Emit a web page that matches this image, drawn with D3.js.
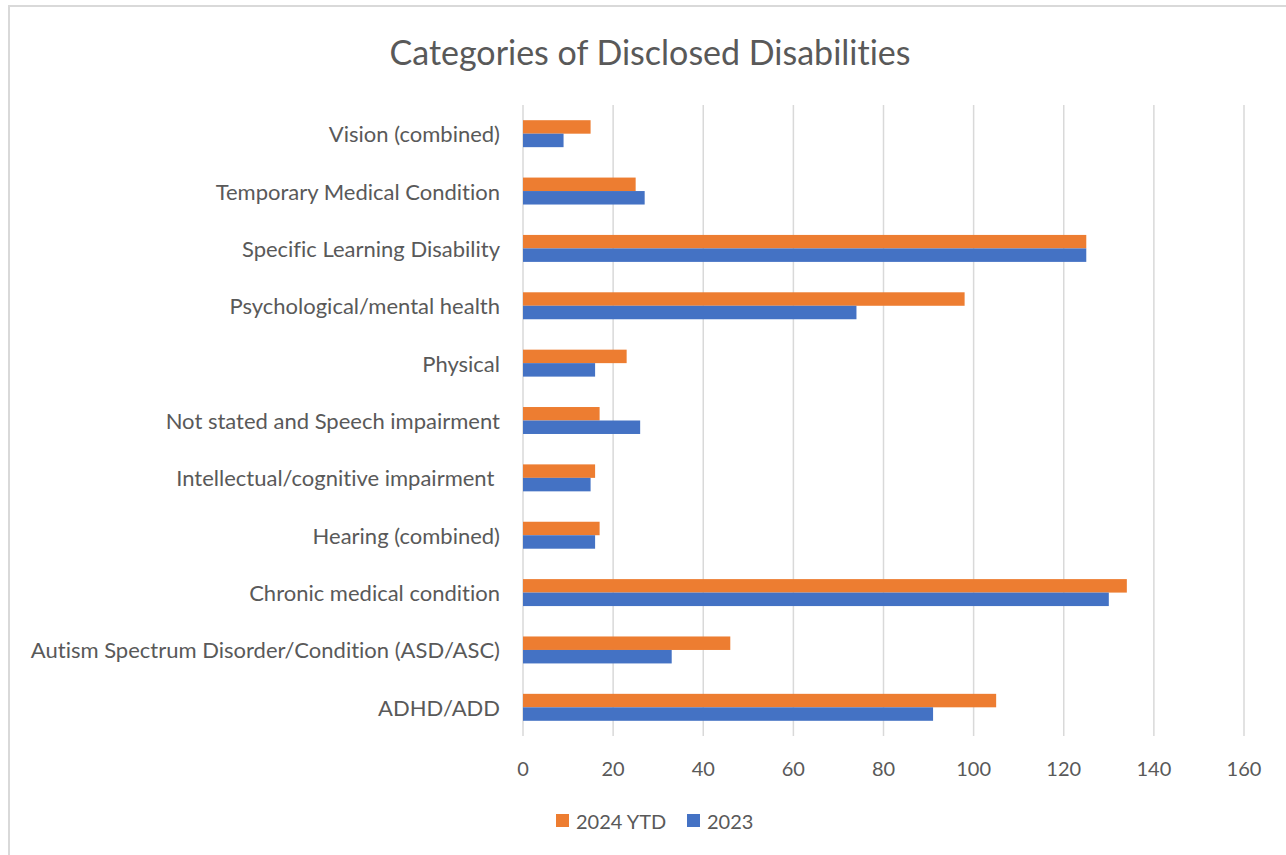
<!DOCTYPE html>
<html>
<head>
<meta charset="utf-8">
<script src="https://cdn.jsdelivr.net/npm/d3@7"></script>
<style>
  html, body { margin: 0; padding: 0; background: #fff; }
  svg { display: block; }
  text { font-family: Lato, "Open Sans", sans-serif; fill: #595959; font-variant-ligatures: none; font-feature-settings: "liga" 0; }
</style>
</head>
<body>
<svg id="chart" width="1286" height="855"></svg>
<script>
// ---- data ----
const title = "Categories of Disclosed Disabilities";
const categories = [
  "Vision (combined)",
  "Temporary Medical Condition",
  "Specific Learning Disability",
  "Psychological/mental health",
  "Physical",
  "Not stated and Speech impairment",
  "Intellectual/cognitive impairment ",
  "Hearing (combined)",
  "Chronic medical condition",
  "Autism Spectrum Disorder/Condition (ASD/ASC)",
  "ADHD/ADD"
];
const seriesNames = ["2024 YTD", "2023"];
const values2024 = [15, 25, 125, 98, 23, 17, 16, 17, 134, 46, 105];
const values2023 = [9, 27, 125, 74, 16, 26, 15, 16, 130, 33, 91];
const xTicks = [0, 20, 40, 60, 80, 100, 120, 140, 160];
const colors = ["#ED7D31", "#4472C4"];

// ---- layout ----
const W = 1286, H = 855;
const plot = { left: 523, right: 1244, top: 105, bottom: 736 };
const svg = d3.select("#chart");

// chart border (only top/left visible in the crop)
svg.append("rect")
  .attr("x", 9).attr("y", 6)
  .attr("width", W + 20).attr("height", H + 20)
  .attr("fill", "none").attr("stroke", "#D9D9D9").attr("stroke-width", 2);

const x = d3.scaleLinear().domain([0, 160]).range([plot.left, plot.right]);
const pIn = 0.53;
const y = d3.scaleBand().domain(categories)
  .range([plot.top, plot.bottom])
  .paddingInner(pIn).paddingOuter(pIn / 2);
const ySub = d3.scaleBand().domain(seriesNames).range([0, y.bandwidth()]);

// gridlines
svg.append("g").selectAll("line").data(xTicks).join("line")
  .attr("x1", d => x(d)).attr("x2", d => x(d))
  .attr("y1", plot.top).attr("y2", plot.bottom)
  .attr("stroke", "#D9D9D9").attr("stroke-width", 1.5);

// x tick labels
svg.append("g").selectAll("text").data(xTicks).join("text")
  .attr("x", d => x(d)).attr("y", 768)
  .attr("text-anchor", "middle").attr("dominant-baseline", "central")
  .style("font-size", "20px")
  .text(d => d);

// bars
const rows = categories.map((c, i) => ({ cat: c, vals: [values2024[i], values2023[i]] }));
const groups = svg.append("g").selectAll("g").data(rows).join("g")
  .attr("transform", d => `translate(0,${y(d.cat)})`);
groups.selectAll("rect")
  .data(d => d.vals.map((v, j) => ({ s: seriesNames[j], v, j })))
  .join("rect")
  .attr("x", x(0))
  .attr("y", d => ySub(d.s))
  .attr("width", d => x(d.v) - x(0))
  .attr("height", ySub.bandwidth())
  .attr("fill", d => colors[d.j]);

// category labels
svg.append("g").selectAll("text").data(categories).join("text")
  .attr("x", 500).attr("y", d => y(d) + y.bandwidth() / 2)
  .attr("text-anchor", "end").attr("dominant-baseline", "central")
  .style("font-size", "22px")
  .style("white-space", "pre")
  .text(d => d);

// title
svg.append("text")
  .attr("x", 650).attr("y", 51)
  .attr("text-anchor", "middle").attr("dominant-baseline", "central")
  .style("font-size", "34px")
  .text(title);

// legend
const legendItems = [
  { name: seriesNames[0], color: colors[0], x: 556 },
  { name: seriesNames[1], color: colors[1], x: 687 }
];
const lg = svg.append("g").selectAll("g").data(legendItems).join("g")
  .attr("transform", d => `translate(${d.x},814)`);
lg.append("rect").attr("width", 13).attr("height", 13).attr("fill", d => d.color);
lg.append("text").attr("x", 20).attr("y", 7)
  .attr("dominant-baseline", "central")
  .style("font-size", "20px")
  .text(d => d.name);
</script>
</body>
</html>
